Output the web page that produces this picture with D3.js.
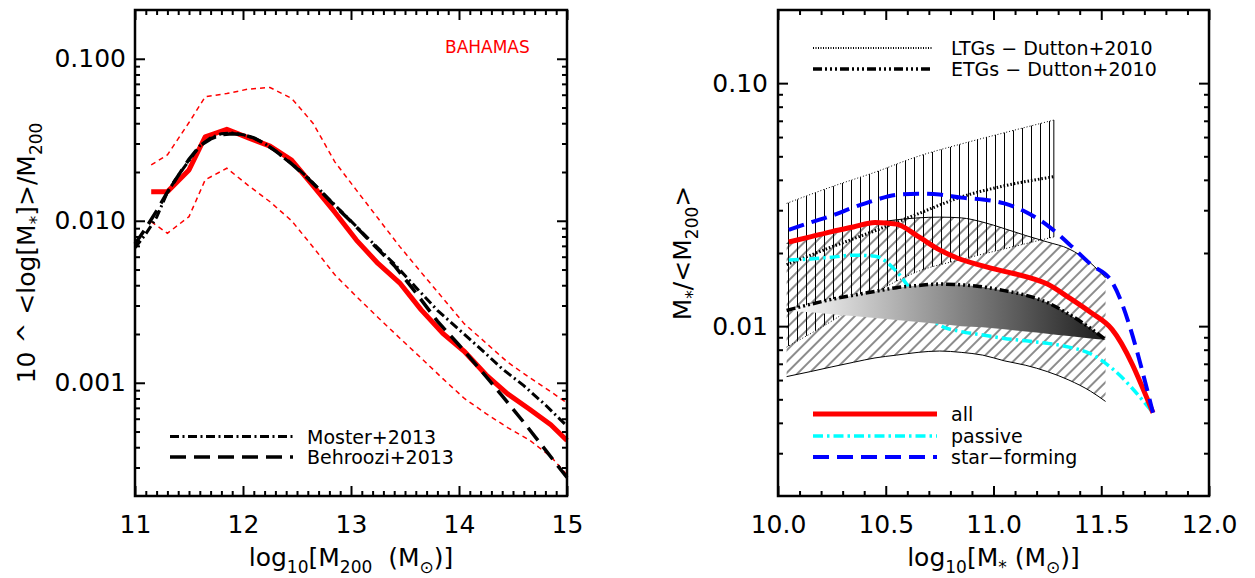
<!DOCTYPE html>
<html><head><meta charset="utf-8">
<script src="https://cdn.jsdelivr.net/npm/d3@7"></script>
<style>
body{margin:0;background:#fff;}
svg{display:block;font-family:"DejaVu Sans","Liberation Sans",sans-serif;}
</style></head><body>
<svg id="chart" width="1255" height="578"></svg>
<script>
// ---------------- LEFT PANEL DATA ----------------
const haloMassX = [11.15,11.3,11.5,11.65,11.85,12.05,12.25,12.45,12.65,12.85,13.05,13.25,13.45,13.65,13.85,14.05,14.25,14.45,14.65,14.85,15.0];
const bahamasMedian = [0.0151,0.0151,0.0206,0.0330,0.0367,0.0325,0.0289,0.0237,0.0164,0.0113,0.0076,0.00545,0.00414,0.00282,0.00202,0.00156,0.00112,0.000854,0.000689,0.00055,0.00044];
const bahamasUpper = [0.0221,0.0255,0.0404,0.0583,0.0610,0.0650,0.0665,0.0570,0.0399,0.0231,0.01545,0.01036,0.00695,0.0048,0.00333,0.00231,0.00176,0.00134,0.00108,0.00088,0.00075];
const bahamasLower = [0.00987,0.00837,0.0106,0.0179,0.0211,0.0165,0.0131,0.0100,0.00687,0.00464,0.00341,0.00253,0.00189,0.00142,0.00106,0.00080,0.000645,0.000529,0.000444,0.00035,0.00027];
const abundX = [11.0,11.1,11.2,11.3,11.4,11.5,11.6,11.7,11.8,11.9,12.0,12.1,12.2,12.3,12.4,12.5,12.6,12.7,12.8,12.9,13.0,13.2,13.4,13.6,13.8,14.0,14.2,14.4,14.6,14.8,15.0];
const moster2013 = [0.0068,0.0083,0.0105,0.0150,0.0190,0.0235,0.0290,0.0325,0.0345,0.0348,0.0340,0.0325,0.0300,0.0270,0.0238,0.0212,0.01845,0.0158,0.01353,0.01159,0.00995,0.00731,0.00542,0.00389,0.00280,0.00213,0.00162,0.00122,0.00096,0.00073,0.00054];
const behroozi2013 = [0.0072,0.0090,0.0115,0.0150,0.0190,0.0240,0.0290,0.0320,0.0340,0.0345,0.0340,0.0325,0.0300,0.0270,0.0240,0.0210,0.0183,0.0157,0.0134,0.0115,0.0099,0.0072,0.0053,0.0036,0.0024,0.00171,0.00120,0.00083,0.00057,0.000385,0.00026];
const leftXTicks = [11,12,13,14,15];
const leftYTicks = [0.001,0.01,0.1];

// ---------------- RIGHT PANEL DATA ----------------
const stellarX = [10.05,10.15,10.25,10.35,10.45,10.55,10.65,10.75,10.85,10.95,11.05,11.15,11.25,11.35,11.45,11.55,11.74];
const allGal = [0.0222,0.0233,0.0245,0.0256,0.0267,0.0263,0.0234,0.0206,0.0188,0.0177,0.0168,0.0160,0.0149,0.0131,0.0114,0.0097,0.0044];
const passiveGal = [0.0187,0.0189,0.0192,0.0196,0.0194,0.0168,0.0128,0.0101,0.0095,0.0092,0.0089,0.0087,0.0085,0.0082,0.0077,0.0067,0.0044];
const starFormingGal = [0.0249,0.0267,0.0285,0.0308,0.0330,0.0347,0.0351,0.0348,0.0338,0.0332,0.0320,0.0295,0.0260,0.0218,0.0180,0.0152,0.0044];
const ltgX = [10.04,10.25,10.45,10.65,10.85,11.05,11.28];
const ltgMean = [0.0179,0.0212,0.0247,0.0290,0.0340,0.0378,0.0412];
const ltgHigh = [0.0320,0.0375,0.0430,0.0500,0.0562,0.0625,0.0705];
const ltgLow = [0.0082,0.0105,0.0137,0.0168,0.0188,0.0208,0.0233];
const etgX = [10.04,10.15,10.25,10.35,10.45,10.55,10.65,10.75,10.85,10.95,11.05,11.15,11.25,11.35,11.45,11.52];
const etgMean = [0.0116,0.0123,0.0129,0.0134,0.0139,0.0144,0.0147,0.0149,0.0148,0.0145,0.0140,0.0134,0.0125,0.0112,0.0098,0.0088];
const etgHigh = [0.0219,0.0232,0.0245,0.0256,0.0266,0.0274,0.0279,0.0281,0.0279,0.0268,0.0252,0.0236,0.0222,0.0208,0.0182,0.0158];
const etgLow = [0.0062,0.0065,0.0068,0.0071,0.0074,0.0076,0.0078,0.0079,0.0078,0.0076,0.0072,0.0069,0.0065,0.0060,0.0054,0.0049];
const etgShadeLow = [0.0116,0.0114,0.0112,0.0110,0.0108,0.0106,0.0104,0.0102,0.0100,0.0099,0.0097,0.0095,0.0093,0.0091,0.0089,0.0088];
const rightXTicks = [10.0,10.5,11.0,11.5,12.0];
const rightYTicks = [0.01,0.1];

// ---------------- SETUP ----------------
const svg = d3.select("#chart");
const FONT = '"DejaVu Sans","Liberation Sans",sans-serif';
const defs = svg.append("defs");

const L = {x0:135, x1:567, y0:10, y1:496};
const R = {x0:778, x1:1209, y0:10, y1:496};
const xL = d3.scaleLinear([11,15],[L.x0,L.x1]);
const yL = d3.scaleLog([0.0002,0.2],[L.y1,L.y0]);
const xR = d3.scaleLinear([10,12],[R.x0,R.x1]);
const yR = d3.scaleLog([0.002,0.2],[R.y1,R.y0]);

function logMinor(lo, hi){
  const out=[];
  for(let k=-5;k<=1;k++) for(let m=2;m<=9;m++){const v=m*Math.pow(10,k); if(v>lo*1.0001 && v<hi*0.9999) out.push(v);}
  return out;
}
function linMinor(lo, hi, step, majors){
  const out=[]; const n=Math.round((hi-lo)/step);
  for(let i=0;i<=n;i++){const v=+(lo+i*step).toFixed(4); if(!majors.some(m=>Math.abs(m-v)<1e-6)) out.push(v);}
  return out;
}

function drawAxes(box, x, y, xMaj, xMin, yMaj, yMin, xFmt, yFmt, yPad){
  const g = svg.append("g");
  const style = sel => { sel.select(".domain").remove(); sel.selectAll("line").attr("stroke","#000").attr("stroke-width",2);
    sel.attr("font-family",FONT).attr("font-size",25); sel.selectAll("text").attr("fill","#000"); };
  g.append("g").attr("transform",`translate(0,${box.y1})`).call(d3.axisBottom(x).tickValues(xMaj).tickSize(-10).tickPadding(19).tickFormat(xFmt)).call(style);
  g.append("g").attr("transform",`translate(0,${box.y1})`).call(d3.axisBottom(x).tickValues(xMin).tickSize(-5).tickFormat("")).call(style);
  g.append("g").attr("transform",`translate(0,${box.y0})`).call(d3.axisTop(x).tickValues(xMaj).tickSize(-10).tickFormat("")).call(style);
  g.append("g").attr("transform",`translate(0,${box.y0})`).call(d3.axisTop(x).tickValues(xMin).tickSize(-5).tickFormat("")).call(style);
  g.append("g").attr("transform",`translate(${box.x0},0)`).call(d3.axisLeft(y).tickValues(yMaj).tickSize(-10).tickPadding(yPad).tickFormat(yFmt)).call(style);
  g.append("g").attr("transform",`translate(${box.x0},0)`).call(d3.axisLeft(y).tickValues(yMin).tickSize(-5).tickFormat("")).call(style);
  g.append("g").attr("transform",`translate(${box.x1},0)`).call(d3.axisRight(y).tickValues(yMaj).tickSize(-10).tickFormat("")).call(style);
  g.append("g").attr("transform",`translate(${box.x1},0)`).call(d3.axisRight(y).tickValues(yMin).tickSize(-5).tickFormat("")).call(style);
}

function richText(parent, parts, attrs){
  const t = parent.append("text").attr("font-family",FONT).attr("font-size",25).attr("fill","#000");
  Object.entries(attrs).forEach(([k,v])=>t.attr(k,v));
  let wasSub=false;
  parts.forEach(p=>{
    const ts = t.append("tspan").text(p.t);
    if(p.sub){ ts.attr("font-size",17).attr("dy", wasSub?0:7); wasSub=true; }
    else { if(wasSub) ts.attr("dy",-7); wasSub=false; }
  });
  return t;
}

function lineOf(x,y,curve){ return d3.line().x(d=>x(d[0])).y(d=>y(d[1])).curve(curve||d3.curveLinear); }

// ================= LEFT PANEL =================
const gL = svg.append("g");
const lineL = lineOf(xL,yL);
gL.append("path").attr("d",lineL(d3.zip(haloMassX,bahamasUpper))).attr("fill","none").attr("stroke","#ff0000").attr("stroke-width",1.5).attr("stroke-dasharray","5,4");
gL.append("path").attr("d",lineL(d3.zip(haloMassX,bahamasLower))).attr("fill","none").attr("stroke","#ff0000").attr("stroke-width",1.5).attr("stroke-dasharray","5,4");
gL.append("path").attr("d",lineL(d3.zip(haloMassX,bahamasMedian))).attr("fill","none").attr("stroke","#ff0000").attr("stroke-width",5).attr("stroke-linejoin","round");
gL.append("path").attr("d",lineL(d3.zip(abundX,moster2013))).attr("fill","none").attr("stroke","#000").attr("stroke-width",3).attr("stroke-dasharray","9,3.5,2,3.5");
gL.append("path").attr("d",lineL(d3.zip(abundX,behroozi2013))).attr("fill","none").attr("stroke","#000").attr("stroke-width",3.5).attr("stroke-dasharray","16,8");

drawAxes(L, xL, yL, leftXTicks, linMinor(11,15,0.1,leftXTicks), leftYTicks, logMinor(0.0002,0.2), d3.format("d"), d3.format(".3f"), 9);

gL.append("text").attr("x",445).attr("y",53).attr("font-family",FONT).attr("font-size",17).attr("fill","#ff0000").text("BAHAMAS");
gL.append("line").attr("x1",170).attr("x2",293).attr("y1",436.5).attr("y2",436.5).attr("stroke","#000").attr("stroke-width",3).attr("stroke-dasharray","9,3.5,2,3.5");
gL.append("line").attr("x1",170).attr("x2",293).attr("y1",457).attr("y2",457).attr("stroke","#000").attr("stroke-width",3.5).attr("stroke-dasharray","16,8");
gL.append("text").attr("x",307).attr("y",443.5).attr("font-family",FONT).attr("font-size",19).text("Moster+2013");
gL.append("text").attr("x",307).attr("y",464).attr("font-family",FONT).attr("font-size",19).text("Behroozi+2013");

richText(gL,[{t:"log"},{t:"10",sub:true},{t:"[M"},{t:"200",sub:true},{t:"  (M"},{t:"\u2299",sub:true},{t:")]"}],
  {x:(L.x0+L.x1)/2,y:566,"text-anchor":"middle"}).style("white-space","pre");
richText(gL,[{t:"10 ^ <log[M"},{t:"*",sub:true},{t:"]>/M"},{t:"200",sub:true}],
  {transform:`translate(35,${(L.y0+L.y1)/2}) rotate(-90)`,"text-anchor":"middle"});

gL.append("rect").attr("x",L.x0).attr("y",L.y0).attr("width",L.x1-L.x0).attr("height",L.y1-L.y0).attr("fill","none").attr("stroke","#000").attr("stroke-width",2.5);

// ================= RIGHT PANEL =================
const gR = svg.append("g");
const vh = defs.append("pattern").attr("id","vhatch").attr("patternUnits","userSpaceOnUse").attr("width",9).attr("height",10).attr("x",Math.round(xR(ltgX[0])));
vh.append("line").attr("x1",1.5).attr("x2",1.5).attr("y1",0).attr("y2",10).attr("stroke","#000").attr("stroke-width",1);
const dh = defs.append("pattern").attr("id","dhatch").attr("patternUnits","userSpaceOnUse").attr("width",8).attr("height",8).attr("patternTransform","rotate(45)");
dh.append("line").attr("x1",4).attr("x2",4).attr("y1",0).attr("y2",8).attr("stroke","#000").attr("stroke-width",0.9);
const grad = defs.append("linearGradient").attr("id","etgGrad").attr("x1","0").attr("x2","1").attr("y1","0").attr("y2","0");
grad.append("stop").attr("offset","0%").attr("stop-color","#ffffff");
grad.append("stop").attr("offset","100%").attr("stop-color","#1c1c1c");

const curve = d3.curveMonotoneX;
const areaR = (xs,lo,hi)=>d3.area().x(d=>xR(d[0])).y0(d=>yR(d[1])).y1(d=>yR(d[2])).curve(curve)(d3.zip(xs,lo,hi));
const lineR = lineOf(xR,yR,curve);

gR.append("path").attr("d",areaR(ltgX,ltgLow,ltgHigh)).attr("fill","url(#vhatch)");
gR.append("line").attr("x1",xR(ltgX[ltgX.length-1])).attr("x2",xR(ltgX[ltgX.length-1])).attr("y1",yR(ltgLow[ltgLow.length-1])).attr("y2",yR(ltgHigh[ltgHigh.length-1])).attr("stroke","#000").attr("stroke-width",1);
gR.append("path").attr("d",areaR(etgX,etgLow,etgHigh)).attr("fill","url(#dhatch)");
gR.append("path").attr("d",lineR(d3.zip(etgX,etgHigh))).attr("fill","none").attr("stroke","#000").attr("stroke-width",1);
gR.append("path").attr("d",lineR(d3.zip(etgX,etgLow))).attr("fill","none").attr("stroke","#000").attr("stroke-width",1);
gR.append("path").attr("d",lineR(d3.zip(ltgX,ltgHigh))).attr("fill","none").attr("stroke","#000").attr("stroke-width",1).attr("stroke-dasharray","1,2");
gR.append("path").attr("d",lineR(d3.zip(ltgX,ltgLow))).attr("fill","none").attr("stroke","#000").attr("stroke-width",1).attr("stroke-dasharray","1,2");
gR.append("path").attr("d",lineR(d3.zip(ltgX,ltgMean))).attr("fill","none").attr("stroke","#000").attr("stroke-width",3).attr("stroke-dasharray","1.5,2");
gR.append("path").attr("d",lineR(d3.zip(stellarX,passiveGal))).attr("fill","none").attr("stroke","#00ffff").attr("stroke-width",3.5).attr("stroke-dasharray","10,4,2.5,4");
gR.append("path").attr("d",areaR(etgX,etgShadeLow,etgMean)).attr("fill","url(#etgGrad)");
gR.append("path").attr("d",lineR(d3.zip(etgX,etgMean))).attr("fill","none").attr("stroke","#000").attr("stroke-width",3.5).attr("stroke-dasharray","9,3,2,3,2,3,2,3");
gR.append("path").attr("d",lineR(d3.zip(stellarX,allGal))).attr("fill","none").attr("stroke","#ff0000").attr("stroke-width",5).attr("stroke-linejoin","round");
gR.append("path").attr("d",lineR(d3.zip(stellarX,starFormingGal))).attr("fill","none").attr("stroke","#0000ff").attr("stroke-width",4).attr("stroke-dasharray","16,8");

drawAxes(R, xR, yR, rightXTicks, linMinor(10,12,0.1,rightXTicks), rightYTicks, logMinor(0.002,0.2), d3.format(".1f"), d3.format(".2f"), 10);

const legTop = [
  {y:48, label:"LTGs \u2212 Dutton+2010", w:2, dash:"1,1.5"},
  {y:69, label:"ETGs \u2212 Dutton+2010", w:3.5, dash:"9,3,2,3,2,3,2,3"}
];
legTop.forEach(d=>{
  gR.append("line").attr("x1",813).attr("x2",933).attr("y1",d.y).attr("y2",d.y).attr("stroke","#000").attr("stroke-width",d.w).attr("stroke-dasharray",d.dash);
  gR.append("text").attr("x",951).attr("y",d.y+7).attr("font-family",FONT).attr("font-size",19).text(d.label);
});
const legBot = [
  {y:414, label:"all", c:"#ff0000", w:5, dash:null},
  {y:436, label:"passive", c:"#00ffff", w:3.5, dash:"10,4,2.5,4"},
  {y:457, label:"star\u2212forming", c:"#0000ff", w:4, dash:"16,8"}
];
legBot.forEach(d=>{
  gR.append("line").attr("x1",813).attr("x2",937).attr("y1",d.y).attr("y2",d.y).attr("stroke",d.c).attr("stroke-width",d.w).attr("stroke-dasharray",d.dash);
  gR.append("text").attr("x",951).attr("y",d.y+7).attr("font-family",FONT).attr("font-size",19).text(d.label);
});

richText(gR,[{t:"log"},{t:"10",sub:true},{t:"[M"},{t:"*",sub:true},{t:" (M"},{t:"\u2299",sub:true},{t:")]"}],
  {x:(R.x0+R.x1)/2,y:566,"text-anchor":"middle"}).style("white-space","pre");
richText(gR,[{t:"M"},{t:"*",sub:true},{t:"/<M"},{t:"200",sub:true},{t:">"}],
  {transform:`translate(691,${(R.y0+R.y1)/2}) rotate(-90)`,"text-anchor":"middle"});

gR.append("rect").attr("x",R.x0).attr("y",R.y0).attr("width",R.x1-R.x0).attr("height",R.y1-R.y0).attr("fill","none").attr("stroke","#000").attr("stroke-width",2.5);
</script>
</body></html>
